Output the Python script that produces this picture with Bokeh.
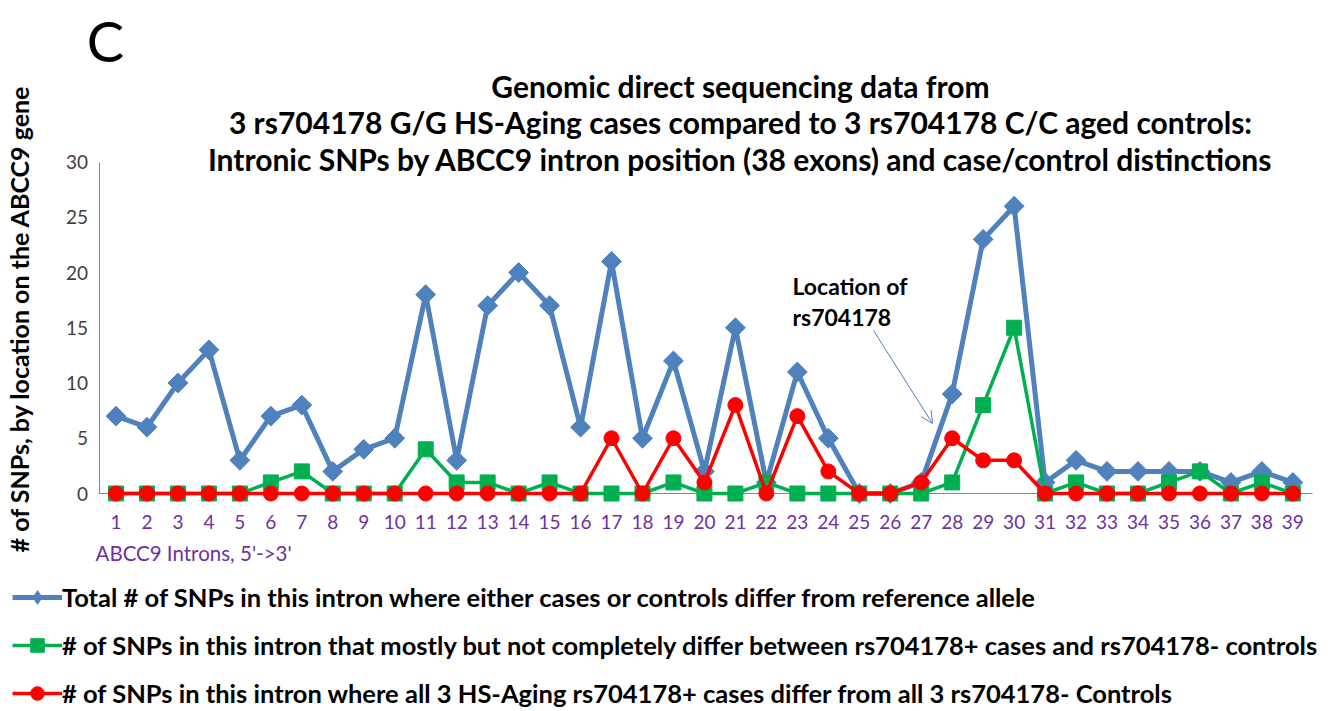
import math
from bokeh.plotting import figure
from bokeh.models import Label, Arrow, OpenHead, Legend, LegendItem, FixedTicker, Range1d
from bokeh.embed import file_html
from bokeh.resources import INLINE

# ---------------- data ----------------
introns = [1, 2, 3, 4, 5, 6, 7, 8, 9, 10, 11, 12, 13, 14, 15, 16, 17, 18, 19, 20,
           21, 22, 23, 24, 25, 26, 27, 28, 29, 30, 31, 32, 33, 34, 35, 36, 37, 38, 39]
total_snps = [7, 6, 10, 13, 3, 7, 8, 2, 4, 5, 18, 3, 17, 20, 17, 6, 21, 5, 12, 2,
              15, 1, 11, 5, 0, 0, 1, 9, 23, 26, 1, 3, 2, 2, 2, 2, 1, 2, 1]
partial_diff = [0, 0, 0, 0, 0, 1, 2, 0, 0, 0, 4, 1, 1, 0, 1, 0, 0, 0, 1, 0,
                0, 1, 0, 0, 0, 0, 0, 1, 8, 15, 0, 1, 0, 0, 1, 2, 0, 1, 0]
full_diff = [0, 0, 0, 0, 0, 0, 0, 0, 0, 0, 0, 0, 0, 0, 0, 0, 5, 0, 5, 1,
             8, 0, 7, 2, 0, 0, 1, 5, 3, 3, 0, 0, 0, 0, 0, 0, 0, 0, 0]
y_ticks = [0, 5, 10, 15, 20, 25, 30]

title_lines = [
    "Genomic direct sequencing data from",
    "3 rs704178 G/G HS-Aging cases compared to 3 rs704178 C/C aged controls:",
    "Intronic SNPs by ABCC9 intron position (38 exons) and case/control distinctions",
]
series_labels = [
    "Total # of SNPs in this intron where either cases or controls differ from reference allele",
    "# of SNPs in this intron that mostly but not completely differ between rs704178+ cases and rs704178- controls",
    "# of SNPs in this intron where all 3 HS-Aging rs704178+ cases differ from all 3 rs704178- Controls",
]
y_title = "# of SNPs, by location on the ABCC9 gene"
x_title = "ABCC9 Introns, 5'->3'"
panel_letter = "C"
note_lines = ["Location of", "rs704178"]

BLUE = "#4F81BD"
GREEN = "#00B050"
RED = "#FF0000"
PURPLE = "#7030A0"
AXIS_GRAY = "#868686"
FONT = "Lato"

# ---------------- layout (pixels on the canvas) ----------------
W, H = 1325, 710
X1_PX, X_STEP = 115.5, 30.97      # pixel of intron 1, pixels per intron
Y0_PX, Y_STEP = 493.0, 11.05      # pixel of value 0, pixels per unit

def xd(px):
    return 1 + (px - X1_PX) / X_STEP
def yd(py):
    return (Y0_PX - py) / Y_STEP
def sx(px):
    return px
def sy(py):
    return H - py

p = figure(width=W, height=H, output_backend="svg", toolbar_location=None,
           x_range=Range1d(xd(0), xd(W)), y_range=Range1d(yd(H), yd(0)),
           min_border=0, min_border_left=0, min_border_right=0,
           min_border_top=0, min_border_bottom=0,
           background_fill_color="white", border_fill_color="white")
p.outline_line_color = None
p.xgrid.visible = False
p.ygrid.visible = False

# axes drawn at fixed data positions inside the canvas
xa = p.xaxis[0]
xa.fixed_location = 0
xa.bounds = (xd(98), xd(1312))
xa.ticker = FixedTicker(ticks=introns)
xa.axis_line_color = AXIS_GRAY
xa.major_tick_line_color = None
xa.minor_tick_line_color = None
xa.major_tick_out = 0
xa.major_label_text_font = FONT
xa.major_label_text_font_size = "19px"
xa.major_label_text_color = PURPLE
xa.major_label_standoff = 21
xa.level = "underlay"

ya = p.yaxis[0]
ya.fixed_location = xd(98.5)
ya.bounds = (0, 30)
ya.ticker = FixedTicker(ticks=y_ticks)
ya.axis_line_color = AXIS_GRAY
ya.major_tick_line_color = None
ya.minor_tick_line_color = None
ya.major_tick_out = 0
ya.major_label_text_font = FONT
ya.major_label_text_font_size = "19px"
ya.major_label_text_color = "#404040"
ya.major_label_standoff = 11
ya.level = "underlay"

# series
l1 = p.line(introns, total_snps, line_color=BLUE, line_width=5)
s1 = p.scatter(introns, total_snps, marker="square", angle=math.pi / 4, size=14,
               fill_color=BLUE, line_color=BLUE)
l2 = p.line(introns, partial_diff, line_color=GREEN, line_width=3.5)
s2 = p.scatter(introns, partial_diff, marker="square", size=15, fill_color=GREEN, line_color=GREEN)
l3 = p.line(introns, full_diff, line_color=RED, line_width=3.5)
s3 = p.scatter(introns, full_diff, marker="circle", size=15, fill_color=RED, line_color=RED)

# hidden diamond renderer of the same series, used only as its legend key
key1 = p.scatter(introns, total_snps, marker="diamond", size=14,
                 fill_color=BLUE, line_color=BLUE, visible=False)

legend = Legend(items=[LegendItem(label=series_labels[0], renderers=[l1, key1]),
                       LegendItem(label=series_labels[1], renderers=[l2, s2]),
                       LegendItem(label=series_labels[2], renderers=[l3, s3])],
                location=(sx(12), 0), orientation="vertical",
                glyph_width=50, glyph_height=34, label_height=34, label_standoff=0,
                spacing=14, padding=0, margin=0,
                border_line_color=None, background_fill_alpha=0,
                inactive_fill_alpha=0,
                label_text_font=FONT, label_text_font_style="bold",
                label_text_font_size="25.5px", label_text_color="black")
p.add_layout(legend)

# titles and texts
for txt, py in zip(title_lines, [85, 121, 158]):
    p.add_layout(Label(x=sx(740), y=sy(py), x_units="screen", y_units="screen", text=txt,
                       text_align="center", text_baseline="middle", text_font=FONT,
                       text_font_style="bold", text_font_size="30px", text_color="black"))

p.add_layout(Label(x=sx(105), y=sy(40), x_units="screen", y_units="screen", text=panel_letter,
                   text_align="center", text_baseline="middle", text_font=FONT,
                   text_font_size="56px", text_color="black"))

p.add_layout(Label(x=sx(18), y=sy(318), x_units="screen", y_units="screen", text=y_title,
                   angle=math.pi / 2, text_align="center", text_baseline="middle", text_font=FONT,
                   text_font_style="bold", text_font_size="25px", text_color="black"))

p.add_layout(Label(x=sx(95), y=sy(552), x_units="screen", y_units="screen", text=x_title,
                   text_align="left", text_baseline="middle", text_font=FONT,
                   text_font_size="20.5px", text_color=PURPLE))

for txt, py in zip(note_lines, [285, 316]):
    p.add_layout(Label(x=sx(792), y=sy(py), x_units="screen", y_units="screen", text=txt,
                       text_align="left", text_baseline="middle", text_font=FONT,
                       text_font_style="bold", text_font_size="23px", text_color="black"))

p.add_layout(Arrow(x_start=sx(873), y_start=sy(330), x_end=sx(932), y_end=sy(423),
                   start_units="screen", end_units="screen",
                   line_color=BLUE, line_width=1,
                   end=OpenHead(size=12, line_color=BLUE, line_width=1)))

open("out.html", "w").write(file_html(p, INLINE))
